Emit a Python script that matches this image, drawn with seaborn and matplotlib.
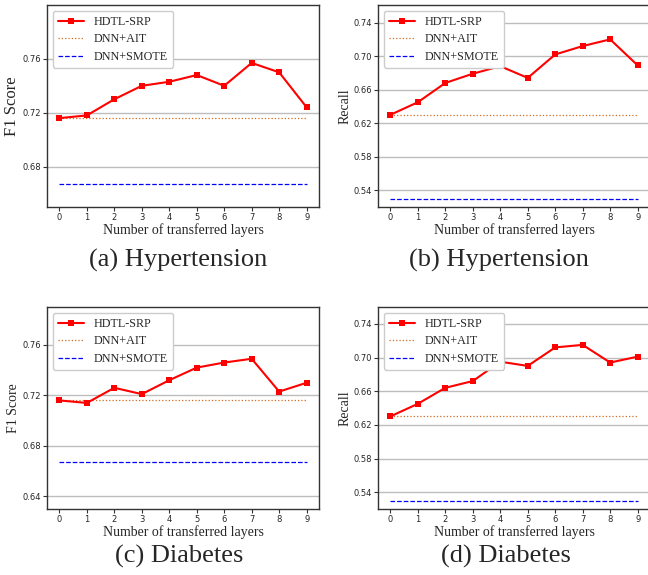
import matplotlib
matplotlib.use("Agg")
import matplotlib.pyplot as plt
import seaborn as sns
import pandas as pd

# ---------------- data ----------------
layers = [0, 1, 2, 3, 4, 5, 6, 7, 8, 9]

hyp_f1_hdtl = [0.716, 0.718, 0.730, 0.740, 0.743, 0.748, 0.740, 0.757, 0.750, 0.724]
hyp_f1_ait = [0.716] * 10
hyp_f1_smote = [0.667] * 10

hyp_rec_hdtl = [0.630, 0.645, 0.668, 0.679, 0.688, 0.674, 0.702, 0.712, 0.720, 0.689]
hyp_rec_ait = [0.630] * 10
hyp_rec_smote = [0.530] * 10

dia_f1_hdtl = [0.716, 0.714, 0.726, 0.721, 0.732, 0.742, 0.746, 0.749, 0.723, 0.730]
dia_f1_ait = [0.716] * 10
dia_f1_smote = [0.667] * 10

dia_rec_hdtl = [0.630, 0.645, 0.664, 0.672, 0.695, 0.690, 0.712, 0.715, 0.694, 0.701]
dia_rec_ait = [0.630] * 10
dia_rec_smote = [0.530] * 10

series_names = ["HDTL-SRP", "DNN+AIT", "DNN+SMOTE"]
captions = ["(a) Hypertension", "(b) Hypertension", "(c) Diabetes", "(d) Diabetes"]
ylabels = ["F1 Score", "Recall", "F1 Score", "Recall"]
xlabel = "Number of transferred layers"

f1_ticks_a = [0.68, 0.72, 0.76]
f1_ticks_c = [0.64, 0.68, 0.72, 0.76]
rec_ticks = [0.54, 0.58, 0.62, 0.66, 0.70, 0.74]

# ---------------- style ----------------
sns.set_style("ticks")
plt.rcParams["font.family"] = ["DejaVu Sans"]
SERIF = ["Liberation Serif", "DejaVu Serif"]

W, H = 648, 575
fig = plt.figure(figsize=(W / 100, H / 100), dpi=100)


def rect(l, t, r, b):
    return [l / W, 1 - b / H, (r - l) / W, (b - t) / H]


panels = [
    dict(r=rect(47, 5, 319, 207), data=(hyp_f1_hdtl, hyp_f1_ait, hyp_f1_smote),
         ylim=(0.65, 0.80), yt=f1_ticks_a, ylfs=12),
    dict(r=rect(378, 5, 650, 207), data=(hyp_rec_hdtl, hyp_rec_ait, hyp_rec_smote),
         ylim=(0.52, 0.761), yt=rec_ticks, ylfs=10),
    dict(r=rect(47, 307, 319, 509), data=(dia_f1_hdtl, dia_f1_ait, dia_f1_smote),
         ylim=(0.63, 0.79), yt=f1_ticks_c, ylfs=10),
    dict(r=rect(378, 307, 650, 509), data=(dia_rec_hdtl, dia_rec_ait, dia_rec_smote),
         ylim=(0.52, 0.76), yt=rec_ticks, ylfs=10),
]

cap_pos = [(178, 260), (499, 260), (179, 556), (506, 556)]

for i, p in enumerate(panels):
    ax = fig.add_axes(p["r"])
    hd, ait, smote = p["data"]
    df_h = pd.DataFrame({"x": layers, "y": hd})
    df_a = pd.DataFrame({"x": layers, "y": ait})
    df_s = pd.DataFrame({"x": layers, "y": smote})
    sns.lineplot(data=df_h, x="x", y="y", ax=ax, color="red", lw=1.5,
                 marker="s", markersize=4.8, markeredgewidth=0,
                 label=series_names[0], zorder=5)
    sns.lineplot(data=df_a, x="x", y="y", ax=ax, color="chocolate", lw=0.9,
                 linestyle=":", label=series_names[1], zorder=4)
    sns.lineplot(data=df_s, x="x", y="y", ax=ax, color="blue", lw=0.9,
                 linestyle="--", label=series_names[2], zorder=4)
    ax.set_xlim(-0.45, 9.45)
    ax.set_ylim(*p["ylim"])
    ax.set_xticks(layers)
    ax.set_yticks(p["yt"])
    ax.set_yticklabels([f"{v:.2f}" for v in p["yt"]])
    ax.yaxis.grid(True, color="#bdbdbd", lw=1.0)
    ax.xaxis.grid(False)
    ax.set_axisbelow(True)
    ax.tick_params(axis="both", labelsize=6, length=3, width=0.8, pad=1.5,
                   color="#333333")
    for s in ax.spines.values():
        s.set_color("#333333")
        s.set_linewidth(1.0)
    ax.set_xlabel(xlabel, family=SERIF, fontsize=10, labelpad=1)
    ax.set_ylabel(ylabels[i], family=SERIF, fontsize=p["ylfs"], labelpad=1.5)
    leg = ax.legend(loc="upper left", prop={"family": SERIF, "size": 8.7},
                    frameon=True, fancybox=True, edgecolor="#cccccc",
                    framealpha=1.0, handlelength=2.2, labelspacing=0.45,
                    borderpad=0.4)
    leg.set_zorder(10)
    cx, cy = cap_pos[i]
    fig.text(cx / W, 1 - cy / H, captions[i], family=SERIF, fontsize=19,
             ha="center", va="center")

fig.savefig("out.png", dpi=100)
